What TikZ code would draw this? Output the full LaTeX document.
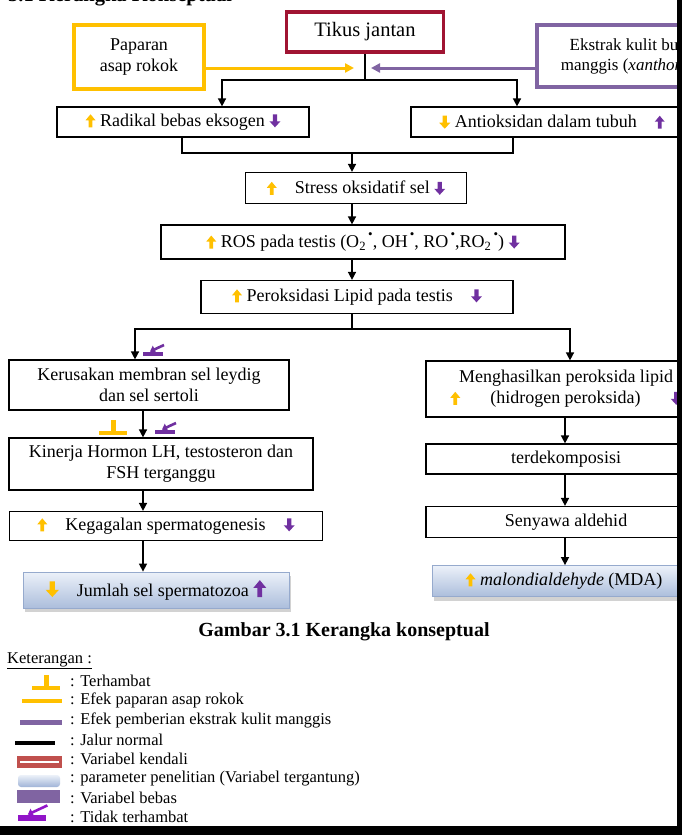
\documentclass[tikz,border=0pt]{standalone}
\usepackage{fontspec}
\setmainfont{Liberation Serif}
\usepackage{tikz}
\usetikzlibrary{positioning}
\usetikzlibrary{calc}
\usetikzlibrary{arrows.meta}
\usetikzlibrary{shadows}
\definecolor{kuning}{RGB}{255,192,0}
\definecolor{ungu}{RGB}{128,100,162}
\definecolor{ungutua}{RGB}{112,48,160}
\definecolor{ungumuda}{RGB}{145,20,200}
\definecolor{merahtua}{RGB}{160,20,50}
\definecolor{merah}{RGB}{192,80,77}
\definecolor{birutepi}{RGB}{150,170,205}
\tikzset{kotak/.style={draw, line width=1.2pt, inner sep=2pt, align=center, font=\fontsize{18}{21}\selectfont}}
\tikzset{param/.style={kotak, draw=birutepi, line width=0.8pt, top color={rgb,255:red,236;green,241;blue,249}, bottom color={rgb,255:red,172;green,190;blue,220}, drop shadow={shadow xshift=2pt, shadow yshift=-4pt, opacity=0.35}}}
\tikzset{garis/.style={line width=1.5pt}}
\tikzset{panah/.style={line width=1.5pt, -{Triangle[length=8pt,width=8pt]}}}
\tikzset{ket/.style={anchor=west, inner sep=0pt, font=\fontsize{16.5}{19}\selectfont}}
\tikzset{hambat/.pic={\fill (-14,-2) rectangle (14,2); \fill (-2.5,-2) rectangle (2.5,-13);}}
\tikzset{lolos/.pic={\fill (-10,-1.8) rectangle (10,1.8); \draw[line width=2.6pt, -{Triangle[length=5pt,width=8pt]}] (11,-9) -- (-3,-2.5);}}
\newcommand{\naik}[2][1]{\tikz[baseline=1pt,scale=#1]\fill[#2] (-1.8pt,0pt) -- (1.8pt,0pt) -- (1.8pt,7pt) -- (5pt,7pt) -- (0pt,13pt) -- (-5pt,7pt) -- (-1.8pt,7pt) -- cycle;}
\newcommand{\turun}[2][1]{\tikz[baseline=1pt,scale=#1]\fill[#2] (-2.2pt,13pt) -- (2.2pt,13pt) -- (2.2pt,6pt) -- (5.5pt,6pt) -- (0pt,0pt) -- (-5.5pt,6pt) -- (-2.2pt,6pt) -- cycle;}
\newcommand{\rad}{\raisebox{1.1ex}{\fontsize{13}{13}\selectfont\,\textbullet}}

\begin{document}
\begin{tikzpicture}[x=1pt, y=-1pt]
\useasboundingbox (0,0) rectangle (682,835);
\clip (0,0) rectangle (682,835);
\fill[white] (0,0) rectangle (682,835);

\node[anchor=base west, inner sep=0pt, font=\bfseries\fontsize{20.5}{24}\selectfont] (judul) at (8,1.5) {3.1 Kerangka Konseptual};

\node[kotak, draw=merahtua, line width=3.5pt, minimum width=157, minimum height=40, font=\fontsize{20.5}{24}\selectfont] (tikus) at (365,32) {Tikus jantan};
\node[kotak, draw=kuning, line width=4.5pt, minimum width=130, minimum height=64] (asap) at (139,57) {Paparan\\asap rokok};
\node[kotak, draw=ungu, line width=4.5pt, minimum width=190, minimum height=62, font=\fontsize{17}{20}\selectfont] (ekstrak) at (632,56) {Ekstrak kulit buah\\manggis (\textit{xanthones})};

\node[kotak, minimum width=252, minimum height=30] (radikal) at (183,122) {\naik{kuning}\ Radikal bebas eksogen\ \turun{ungutua}};
\node[kotak, minimum width=282, minimum height=30] (antiok) at (552,122) {\turun{kuning}\ Antioksidan dalam tubuh\quad\naik{ungutua}};
\node[kotak, minimum width=221, minimum height=31] (stres) at (356,188) {\naik{kuning}\quad Stress oksidatif sel\ \turun{ungutua}};
\node[kotak, minimum width=404, minimum height=34] (ros) at (363,242) {\naik{kuning}\ ROS pada testis (O\textsubscript{2}\rad, OH\rad, RO\rad,RO\textsubscript{2}\rad)\ \turun{ungutua}};
\node[kotak, minimum width=312, minimum height=33] (perok) at (357,297) {\naik{kuning}\ Peroksidasi Lipid pada testis\quad\turun{ungutua}};

\node[kotak, minimum width=280, minimum height=50] (rusak) at (149,385) {Kerusakan membran sel leydig\\dan sel sertoli};
\node[kotak, minimum width=304, minimum height=52] (kinerja) at (161,464) {Kinerja Hormon LH, testosteron dan\\FSH terganggu};
\node[kotak, minimum width=313, minimum height=29] (gagal) at (166,526) {\naik{kuning}\quad Kegagalan spermatogenesis\quad\turun{ungutua}};
\node[param, minimum width=266, minimum height=36] (jumlah) at (156,590) {\turun[1.2]{kuning}\quad Jumlah sel spermatozoa\ \naik[1.3]{ungutua}};

\node[kotak, minimum width=280, minimum height=56] (hasil) at (566,389) {Menghasilkan peroksida lipid\\\naik{kuning}\hspace{30pt}(hidrogen peroksida)\hspace{30pt}\turun{ungutua}};
\node[kotak, minimum width=280, minimum height=30] (dekom) at (566,459) {terdekomposisi};
\node[kotak, minimum width=280, minimum height=31] (aldehid) at (566,522) {Senyawa aldehid};
\node[param, minimum width=264, minimum height=31] (mda) at (564,581) {\naik{kuning}\ \textit{malondialdehyde} (MDA)};

\node[font=\bfseries\fontsize{20}{24}\selectfont] (judulgbr) at (344,632) {Gambar 3.1 Kerangka konseptual};

\coordinate (tipk) at (354,68);
\coordinate (tipu) at (371,68);
\draw[kuning, line width=3pt, -{Triangle[length=9pt,width=9pt]}] (asap.east |- tipk) -- (tipk);
\draw[ungu, line width=3pt, -{Triangle[length=9pt,width=9pt]}] (ekstrak.west |- tipu) -- (tipu);

\coordinate (aux1) at (365,80);
\coordinate (aux2) at (222,80);
\coordinate (aux3) at (517,80);
\draw[garis] (tikus) -- (aux1);
\draw[panah] (aux1) -- (aux2) -- (aux2 |- radikal.north);
\draw[panah] (aux1) -- (aux3) -- (aux3 |- antiok.north);

\coordinate (aux4) at (182,153);
\coordinate (aux5) at (513,153);
\coordinate (aux6) at (352,153);
\draw[garis] (radikal.south -| aux4) -- (aux4) -- (aux5) -- (antiok.south -| aux5);
\draw[panah] (aux6) -- (aux6 |- stres.north);
\draw[panah] (stres.south -| aux6) -- (ros.north -| aux6);
\draw[panah] (ros.south -| aux6) -- (perok.north -| aux6);

\coordinate (aux7) at (352,329);
\coordinate (aux8) at (135,329);
\coordinate (aux9) at (570,329);
\draw[garis] (perok.south -| aux7) -- (aux7);
\draw[panah] (aux7) -- (aux8) -- (aux8 |- rusak.north);
\draw[panah] (aux7) -- (aux9) -- (aux9 |- hasil.north);

\coordinate (kiri) at (143,500);
\coordinate (kanan) at (565,500);
\draw[panah] (rusak.south -| kiri) -- (kinerja.north -| kiri);
\draw[panah] (kinerja.south -| kiri) -- (gagal.north -| kiri);
\draw[panah] (gagal.south -| kiri) -- (jumlah.north -| kiri);
\draw[panah] (hasil.south -| kanan) -- (dekom.north -| kanan);
\draw[panah] (dekom.south -| kanan) -- (aldehid.north -| kanan);
\draw[panah] (aldehid.south -| kanan) -- (mda.north -| kanan);

\pic[color=ungutua] at (153,354) {lolos};
\pic[color=kuning] at (113,433) {hambat};
\pic[color=ungutua] at (165,432) {lolos};

\node[ket] (keterangan) at (7,661) {\underline{Keterangan :}};
\pic[color=kuning] at (46,688) {hambat};
\node[ket] (k1) at (70,681) {: Terhambat};
\draw[kuning, line width=4pt] (22,701) -- (62,701);
\node[ket] (k2) at (70,700.5) {: Efek paparan asap rokok};
\draw[ungu, line width=5pt] (20,722) -- (62,722);
\node[ket] (k3) at (70,720) {: Efek pemberian ekstrak kulit manggis};
\draw[black, line width=4pt] (15,743) -- (55,743);
\node[ket] (k4) at (70,739.5) {: Jalur normal};
\fill[merah] (17,756) rectangle (62,768);
\draw[white, line width=1.5pt] (20,762) -- (59,762);
\node[ket] (k5) at (70,759) {: Variabel kendali};
\shade[rounded corners=3pt, top color={rgb,255:red,236;green,241;blue,249}, bottom color={rgb,255:red,160;green,180;blue,215}] (18,775) rectangle (60,787);
\node[ket] (k6) at (70,778.5) {: parameter penelitian (Variabel tergantung)};
\fill[ungu] (17,790) rectangle (60,803);
\node[ket] (k7) at (70,798) {: Variabel bebas};
\pic[color=ungumuda, scale=1.4] at (32,818) {lolos};
\node[ket] (k8) at (70,817) {: Tidak terhambat};

\fill[black] (677,0) rectangle (682,835);
\fill[black] (0,826) rectangle (682,835);
\end{tikzpicture}
\end{document}
